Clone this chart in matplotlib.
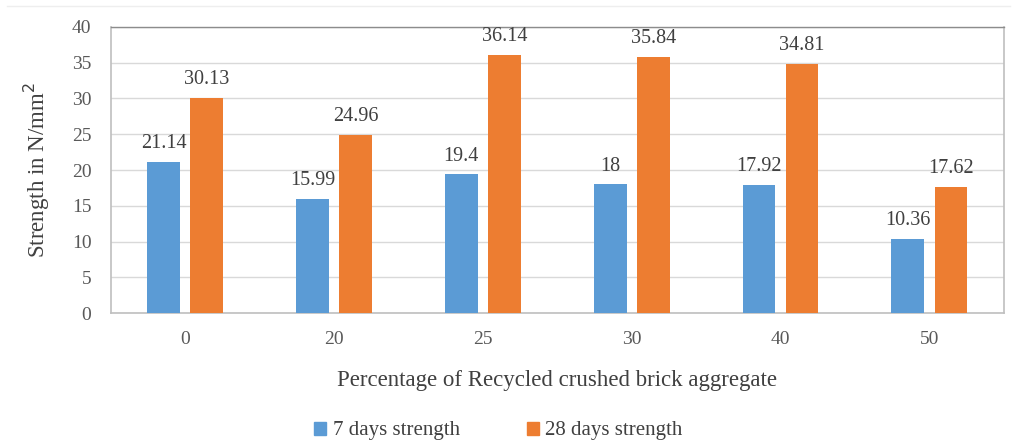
import matplotlib
matplotlib.use("Agg")
import matplotlib.pyplot as plt
from matplotlib.lines import Line2D
from matplotlib.patches import Patch
import numpy as np

categories = ["0", "20", "25", "30", "40", "50"]
strength_7 = [21.14, 15.99, 19.4, 18, 17.92, 10.36]
strength_28 = [30.13, 24.96, 36.14, 35.84, 34.81, 17.62]
labels_7 = ["21.14", "15.99", "19.4", "18", "17.92", "10.36"]
labels_28 = ["30.13", "24.96", "36.14", "35.84", "34.81", "17.62"]
series_names = ["7 days strength", "28 days strength"]
y_ticks = [0, 5, 10, 15, 20, 25, 30, 35, 40]

plt.rcParams["font.family"] = ["Liberation Serif", "DejaVu Serif"]

blue = "#5B9BD5"
orange = "#ED7D31"
text_gray = "#595959"

fig = plt.figure(figsize=(10.17, 4.48), dpi=100)
ax = fig.add_axes([0.109, 0.301, 0.878, 0.639])

x = np.arange(len(categories))
width = 0.22
offset = 0.145
b1 = ax.bar(x - offset, strength_7, width, color=blue, zorder=3)
b2 = ax.bar(x + offset, strength_28, width, color=orange, zorder=3)

for bars, labs in ((b1, labels_7), (b2, labels_28)):
    for rect, lab in zip(bars, labs):
        ax.annotate(lab, (rect.get_x() + rect.get_width() / 2, rect.get_height()),
                    xytext=(0, 13), textcoords="offset points",
                    ha="center", va="center", fontsize=14.5, color="#404040")

ax.set_xlim(-0.5, len(categories) - 0.5)
ax.set_ylim(0, 40)
ax.set_yticks(y_ticks)
ax.set_xticks(x)
ax.set_xticklabels(categories)
ax.tick_params(axis="both", length=0, labelsize=14, colors=text_gray)
ax.tick_params(axis="x", pad=13)
ax.tick_params(axis="y", pad=14)
ax.yaxis.grid(True, color="#d9d9d9", linewidth=1.0, zorder=0)
ax.set_axisbelow(True)

for side in ("left", "right", "bottom"):
    ax.spines[side].set_color("#bfbfbf")
    ax.spines[side].set_linewidth(1.2)
ax.spines["top"].set_color("#8c8c8c")
ax.spines["top"].set_linewidth(1.0)

ax.set_ylabel("Strength in N/mm$^2$", fontsize=16.5, color="#404040", labelpad=14)
ax.set_xlabel("Percentage of Recycled crushed brick aggregate", fontsize=16.5,
              color="#404040", labelpad=16)

handles = [Patch(color=blue), Patch(color=orange)]
fig.legend(handles, series_names, loc="center", bbox_to_anchor=(0.49, 0.038),
           ncol=2, frameon=False, fontsize=15, handlelength=0.6, handleheight=0.6,
           handletextpad=0.3, columnspacing=3.2, labelcolor="#404040")

fig.add_artist(Line2D([0.007, 0.993], [0.987, 0.987], transform=fig.transFigure,
                      color="#eeeeee", linewidth=1.0))

fig.savefig("out.png", dpi=100, facecolor="white")
